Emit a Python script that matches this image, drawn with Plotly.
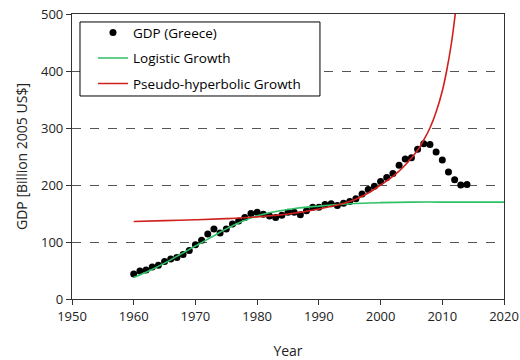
import plotly.graph_objects as go

# Greece real GDP, billion 2005 US$
years = list(range(1960, 2015))
gdp = [44, 49, 51, 56, 59, 66, 70, 73, 78, 85,
       95, 103, 114, 123, 116, 123, 131.6, 137, 143, 150,
       152, 148.6, 145.6, 143, 147, 152, 152, 148, 155, 161,
       161, 166, 167, 164, 168, 171, 176, 184, 192, 198,
       206, 213, 220, 234.5, 245.6, 248, 262.6, 272.5, 271, 258,
       244, 223, 209, 200, 201]

# Logistic growth model
logistic_years = [1960, 1962, 1965, 1968, 1970, 1973, 1975, 1978, 1980, 1985,
                  1990, 1995, 2000, 2005, 2010, 2015, 2020]
logistic_gdp = [38, 47, 63, 81, 93, 111, 123, 138, 146, 157,
                163, 167, 169, 170, 170, 170, 170]

# Pseudo-hyperbolic growth model
hyper_years = [1960, 1965, 1970, 1975, 1980, 1985, 1990, 1995, 1998, 2000,
               2002, 2004, 2006, 2007, 2008, 2009, 2010, 2010.7, 2011.5, 2012.1]
hyper_gdp = [136, 137.5, 139, 141, 144, 149, 158, 171, 186, 200,
             215, 235, 261, 279, 300, 328, 365, 400, 450, 500]

x_ticks = [1950, 1960, 1970, 1980, 1990, 2000, 2010, 2020]
y_ticks = [0, 100, 200, 300, 400, 500]

font_family = "Open Sans"

fig = go.Figure()
fig.add_trace(go.Scatter(
    x=years, y=gdp, mode="markers", name="GDP (Greece)", legendgroup="a",
    marker=dict(color="black", size=7),
))
fig.add_trace(go.Scatter(
    x=logistic_years, y=logistic_gdp, mode="lines", name="Logistic Growth",
    legendgroup="b",
    line=dict(color="#2EC165", width=1.6, shape="spline", smoothing=1),
))
fig.add_trace(go.Scatter(
    x=hyper_years, y=hyper_gdp, mode="lines", name="Pseudo-hyperbolic Growth",
    legendgroup="c",
    line=dict(color="#D0201E", width=1.6, shape="spline", smoothing=1),
))

# white framed box behind the legend entries
fig.add_shape(
    type="rect", xref="paper", yref="paper",
    x0=0.0185, x1=0.574, y0=0.7123, y1=0.972,
    fillcolor="white", line=dict(color="black", width=1), layer="above",
)

fig.update_layout(
    width=520, height=360,
    margin=dict(l=72, r=16, t=14, b=61),
    paper_bgcolor="white", plot_bgcolor="white",
    font=dict(family=font_family, size=13, color="#222"),
    showlegend=True,
    legend=dict(
        x=0.0486, y=0.989, xanchor="left", yanchor="top",
        bgcolor="rgba(0,0,0,0)", borderwidth=0,
        font=dict(size=13.5, color="black"),
        tracegroupgap=5,
    ),
    xaxis=dict(
        range=[1950, 2020], tickvals=x_ticks, showgrid=False, zeroline=False,
        showline=True, linecolor="#333", linewidth=1.2, mirror=True,
        ticks="outside", ticklen=5, tickcolor="#333", automargin=False,
        title=dict(text="Year", standoff=24, font=dict(size=14)),
    ),
    yaxis=dict(
        range=[0, 500], tickvals=y_ticks, zeroline=False, automargin=False,
        showgrid=True, gridcolor="#555", griddash="dash", gridwidth=1,
        showline=True, linecolor="#333", linewidth=1.2, mirror=True,
        ticks="outside", ticklen=5, tickcolor="#333",
        title=dict(text="GDP [Billion 2005 US$]", standoff=10, font=dict(size=14)),
    ),
)

fig.write_html("out.html")
